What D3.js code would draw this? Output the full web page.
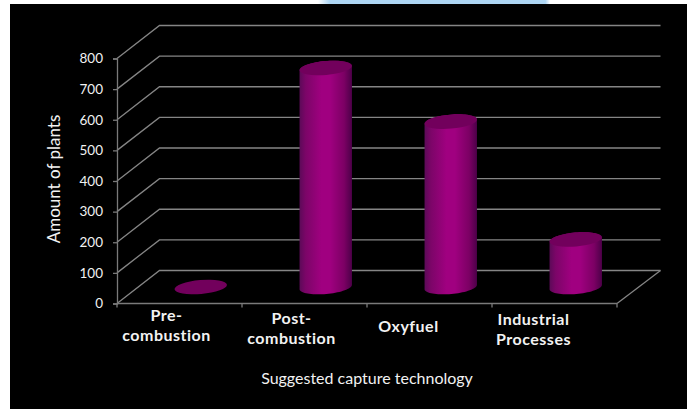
<!DOCTYPE html>
<html><head><meta charset="utf-8">
<script src="https://cdn.jsdelivr.net/npm/d3@7/dist/d3.min.js"></script>
<style>html,body{margin:0;padding:0;background:#fff}svg{display:block}</style>
</head><body><div id="chart"></div>
<script>
const categories = [["Pre-","combustion"],["Post-","combustion"],["Oxyfuel"],["Industrial","Processes"]];
const categoryIds = ["Pre-combustion","Post-combustion","Oxyfuel","Industrial Processes"];
const plantValues = [0,715,540,155];
const yTicks = [0,100,200,300,400,500,600,700,800];
const labelDx = [-13,-13,-21,-21];
const labelBase = [321,324,332,325];
const W=687,H=409;
const svg=d3.select("#chart").append("svg").attr("width",W).attr("height",H);
const defs=svg.append("defs");
const grad=defs.append("linearGradient").attr("id","cyl");
[[0,"#5c0a58"],[.12,"#7c0568"],[.42,"#a00080"],[.58,"#a00080"],[.85,"#7c0064"],[1,"#4c0048"]].forEach(s=>grad.append("stop").attr("offset",s[0]).attr("stop-color",s[1]));
const bg=defs.append("linearGradient").attr("id","strip");
[[0,"#ffffff"],[.05,"#aed6f4"],[.98,"#aed6f4"],[1,"#ffffff"]].forEach(s=>bg.append("stop").attr("offset",s[0]).attr("stop-color",s[1]));
svg.append("rect").attr("x",318).attr("width",232).attr("height",5).attr("fill","url(#strip)");
svg.append("rect").attr("x",10).attr("y",4).attr("width",W-10).attr("height",H-4).attr("fill","#000");

const x=d3.scaleBand().domain(categoryIds).range([117,617]).paddingInner(0).paddingOuter(0);
const y=d3.scaleLinear().domain([0,800]).range([303.5,58.5]);
const depth={dx:42.5,dy:-33};
const grid=svg.append("g").attr("fill","none").attr("stroke","#858585").attr("stroke-width",1.3);
grid.selectAll("path").data(yTicks).join("path").attr("d",d=>{
  const p=d3.path();p.moveTo(x.range()[0],y(d));p.lineTo(x.range()[0]+depth.dx,y(d)+depth.dy);p.lineTo(x.range()[1]+depth.dx+1,y(d)+depth.dy);return p.toString();});
const fl=d3.path();fl.moveTo(x.range()[1],y(0));fl.lineTo(x.range()[1]+depth.dx+1,y(0)+depth.dy);
grid.append("path").attr("d",fl.toString());
const axisCol="#7a7a7a";
const yAxis=svg.append("g").attr("transform",`translate(${x.range()[0]},0)`).call(d3.axisLeft(y).tickValues(yTicks).tickSize(4).tickPadding(10));
yAxis.selectAll("path,line").attr("stroke",axisCol).attr("stroke-width",1.3);
yAxis.selectAll("text").attr("fill","#f2f2f2").attr("font-family","Lato").attr("font-size",13.5);
const xb=svg.append("g").attr("stroke",axisCol).attr("stroke-width",1.3);
xb.append("line").attr("x1",x.range()[0]).attr("x2",x.range()[1]).attr("y1",y(0)).attr("y2",y(0));
xb.selectAll(".t").data([...categoryIds.map(c=>x(c)),x.range()[1]]).join("line").attr("class","t").attr("x1",d=>d).attr("x2",d=>d).attr("y1",y(0)).attr("y2",y(0)+4);
// cylinders: outlines traced with a d3 line along tilted ellipses
const rx=26.3,ry=7,tilt=-5,rad=tilt*Math.PI/180;
const ell=(cx,cy,t)=>[cx+rx*Math.cos(t)*Math.cos(rad)-ry*Math.sin(t)*Math.sin(rad),cy+rx*Math.cos(t)*Math.sin(rad)+ry*Math.sin(t)*Math.cos(rad)];
const line=d3.line();
const rows=categoryIds.map((c,i)=>({c,v:plantValues[i],cx:x(c)+x.bandwidth()/2+depth.dx/2,base:y(0)+depth.dy/2,top:y(plantValues[i])+depth.dy/2}));
const outline=d=>{
  const pts=[];
  for(let k=0;k<=36;k++)pts.push(ell(d.cx,d.base,Math.PI*(1-k/36)));
  for(let k=0;k<=36;k++)pts.push(ell(d.cx,d.top,-Math.PI*k/36));
  return line(pts)+"Z";
};
const barG=svg.append("g");
barG.selectAll(".body").data(rows.filter(d=>d.v>0)).join("path").attr("class","body").attr("fill","url(#cyl)").attr("d",outline);
barG.selectAll(".cap").data(rows).join("ellipse").attr("class","cap").attr("fill","#72005c")
 .attr("rx",rx).attr("ry",ry).attr("transform",d=>`translate(${d.cx},${d.top}) rotate(${tilt})`);
const lab=svg.append("g").attr("fill","#f2f2f2").attr("font-family","Lato").attr("font-weight",700).attr("font-size",16).attr("letter-spacing",0.5).attr("text-anchor","middle");
categories.forEach((lines,i)=>{
  const cx=x(categoryIds[i])+x.bandwidth()/2+labelDx[i];
  lines.forEach((t,j)=>lab.append("text").attr("x",cx).attr("y",labelBase[i]+j*19.5).text(t));
});
svg.append("text").attr("x",367).attr("y",384).attr("text-anchor","middle").attr("fill","#f2f2f2").attr("font-family","Lato").attr("font-size",16).text("Suggested capture technology");
svg.append("text").attr("transform","translate(60,179) rotate(-90)").attr("text-anchor","middle").attr("fill","#f2f2f2").attr("font-family","Lato").attr("font-size",17).text("Amount of plants");
</script></body></html>
